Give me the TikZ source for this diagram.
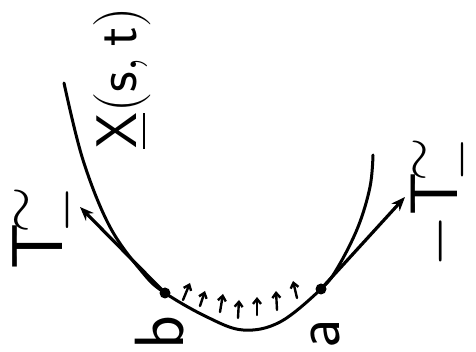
\documentclass[tikz,border=0pt]{standalone}
\usepackage{amsmath,amssymb}
\usepackage{tikz}
\usetikzlibrary{arrows.meta}

\begin{document}
\begin{tikzpicture}[x=1pt,y=1pt,line width=3pt,line cap=round,
 lbl/.style={rotate=90,font=\Huge\sffamily,inner sep=0pt},
 pt/.style={circle,fill,inner sep=0pt,minimum size=11pt},
 tang/.style={-{Stealth[length=14pt,width=11pt]},line width=3.2pt},
 push/.style={-{Straight Barb[length=5pt,width=8pt]},line width=2.4pt}]
\useasboundingbox (0,0) rectangle (476,352);
% the curve and its two end points
\coordinate (b) at (165,59);
\coordinate (a) at (321,63);
\draw plot[smooth,tension=0.6] coordinates {(64,269) (83,192) (110,125) (143,79) (b) (207,35) (243,22) (280,30) (a) (338,85) (358,125) (370,165) (373,197)};
\node[pt] (bdot) at (b) {};
\node[pt] (adot) at (a) {};
% tangents
\coordinate (tb) at (80,145);
\coordinate (ta) at (405,155);
\draw[tang] (b) -- (tb);
\draw[tang] (a) -- (ta);
% pressure arrows
\foreach \bx/\by/\tx/\ty [count=\n] in {183/52/190/69,200/46/205/61,220/40/223/58,238/34/239/52,257/37/257/55,277/42/276/61,297/54/293/71}{
 \coordinate (f\n) at (\bx,\by);
 \coordinate (g\n) at (\tx,\ty);
 \draw[push] (f\n) -- (g\n);
}
% labels
\node[lbl,scale=2.3] (Xlbl) at (122,274) {$\underline{\mathsf{X}}\mathsf{(s,t)}$};
\node[lbl,scale=2.9] (Tleft) at (50,125) {$\mathsf{T}^{\!\sim}_{\!-}$};
\node[lbl,scale=2.7] (Tright) at (446,150) {$-\mathsf{T}^{\!\sim}_{\!-}$};
\node[lbl,scale=2.8] (blbl) at (160,19) {b};
\node[lbl,scale=2.6] (albl) at (325,18) {a};
\end{tikzpicture}
\end{document}
